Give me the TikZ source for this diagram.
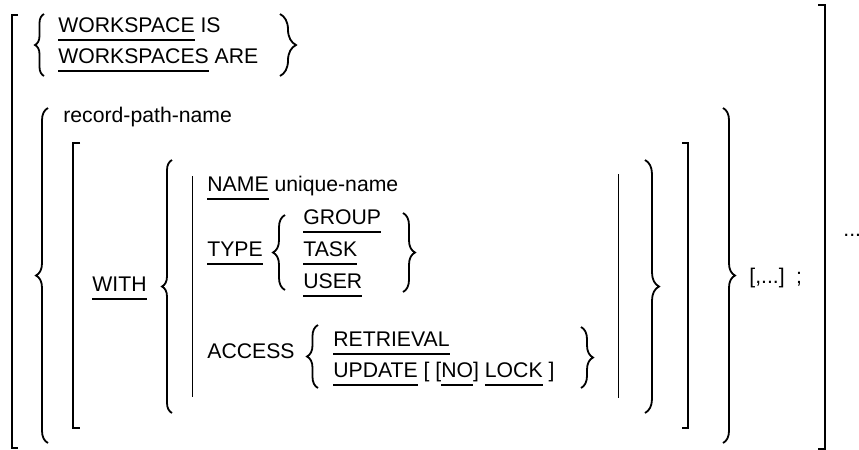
\documentclass[tikz,border=0pt]{standalone}
\usepackage{fontspec}
\setmainfont{Liberation Sans}
\usetikzlibrary{decorations.pathreplacing}
\newcommand\syn{\fontsize{10.6}{12}\selectfont}
\newcommand\kw[1]{\setbox0\hbox{#1}\rlap{\rule[-4.5pt]{\wd0}{1pt}}\box0{}}

\begin{document}
\begin{tikzpicture}[x=0.5pt,y=-0.5pt]
    \tikzset{
      word/.style={anchor=base west, inner sep=0pt, font=\syn},
      bracket/.style={line width=1pt},
      curly/.style={decorate, decoration={brace, amplitude=#1}, line width=0.9pt},
      bar/.style={line width=0.5pt}
    }
    \useasboundingbox (0,0) rectangle (859,450);
    % words
    \node[word] (ws) at (58,32) {\kw{WORKSPACE} IS};
    \node[word] (wss) at (58,63) {\kw{WORKSPACES} ARE};
    \node[word] (rpn) at (63,122) {record-path-name};
    \node[word] (with) at (92,291) {\kw{WITH}};
    \node[word] (name) at (207,191) {\kw{NAME} unique-name};
    \node[word] (type) at (207,256) {\kw{TYPE}};
    \node[word] (group) at (303,224) {\kw{GROUP}};
    \node[word] (task) at (303,256) {\kw{TASK}};
    \node[word] (user) at (303,288) {\kw{USER}};
    \node[word] (access) at (207,358) {ACCESS};
    \node[word] (retr) at (333,346) {\kw{RETRIEVAL}};
    \node[word] (upd) at (333,377) {\kw{UPDATE} [ [\kw{NO}] \kw{LOCK} ]};
    \node[word] (rep) at (749,283) {[,...] \,;};
    \node[word] (more) at (843,236) {...};

    %brackets
    \draw[bracket] (18,15) -- (12,15) -- (12,448) -- (18,448);
    \draw[bracket] (818,5) -- (825,5) -- (825,449) -- (818,449);
    \draw[bracket] (80,143) -- (73,143) -- (73,428) -- (80,428);
    \draw[bracket] (682,143) -- (688,143) -- (688,428) -- (682,428);
    \draw[bar] (192,176) -- (192,397);
    \draw[bar] (618,174) -- (618,398);

    %braces
    \draw[curly=4.5pt] (44,76) -- (44,14);
    \draw[curly=8pt] (280,14) -- (280,76);
    \draw[curly=6pt] (48,443) -- (48,108);
    \draw[curly=6pt] (723,108) -- (723,443);
    \draw[curly=5pt] (172,413) -- (172,160);
    \draw[curly=7pt] (645,160) -- (645,413);
    \draw[curly=6pt] (285,290) -- (285,215);
    \draw[curly=6pt] (403,213) -- (403,292);
    \draw[curly=5.5pt] (318,388) -- (318,325);
    \draw[curly=6pt] (581,327) -- (581,388);
  \end{tikzpicture}
\end{document}
